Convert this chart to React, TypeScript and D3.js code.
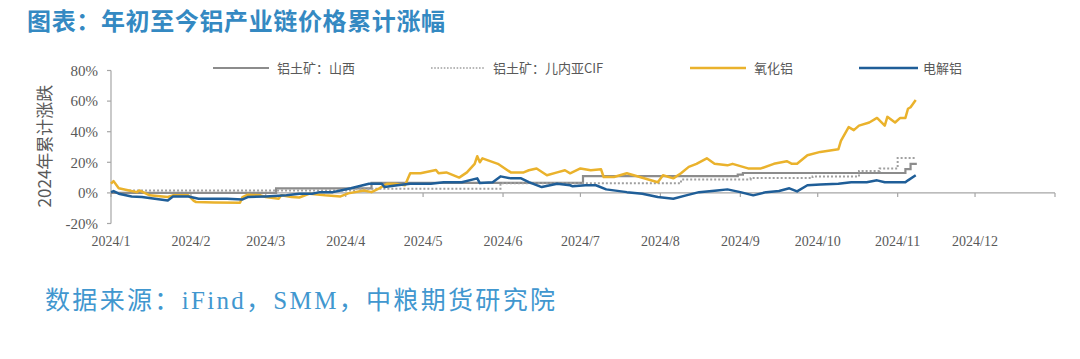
import React from "react";
import * as d3 from "d3";

// ---------- data ----------
const monthTicks = ["2024-01-01","2024-02-01","2024-03-01","2024-04-01","2024-05-01","2024-06-01","2024-07-01","2024-08-01","2024-09-01","2024-10-01","2024-11-01","2024-12-01","2025-01-01"];
const monthLabels = ["2024/1","2024/2","2024/3","2024/4","2024/5","2024/6","2024/7","2024/8","2024/9","2024/10","2024/11","2024/12",""];
const yTicks = [-20, 0, 20, 40, 60, 80];

const seriesNames = ["铝土矿：山西", "铝土矿：儿内亚CIF", "氧化铝", "电解铝"];

// 铝土矿：山西 (step)
const shanxiDates = ["2024-01-01","2024-03-05","2024-04-11","2024-07-02","2024-08-31","2024-09-02","2024-10-31","2024-11-04","2024-11-06","2024-11-08"];
const shanxiValues = [0, 3.0, 6.6, 11.0, 12.0, 13.0, 13.0, 15.5, 19.0, 18.2];

// 铝土矿：几内亚CIF (step)
const guineaDates = ["2024-01-08","2024-04-05","2024-05-31","2024-08-09","2024-09-05","2024-09-29","2024-10-17","2024-10-25","2024-11-01","2024-11-08"];
const guineaValues = [1.6, 2.7, 6.3, 8.7, 9.7, 10.8, 14.3, 15.9, 22.8, 22.8];

// 氧化铝
const aluminaDates = ["2024-01-01","2024-01-02","2024-01-04","2024-01-08","2024-01-11","2024-01-12","2024-01-16","2024-01-20","2024-01-23","2024-01-25","2024-01-31","2024-02-02","2024-02-03","2024-02-10","2024-02-20","2024-02-21","2024-02-23","2024-02-28","2024-03-01","2024-03-06","2024-03-07","2024-03-11","2024-03-14","2024-03-18","2024-03-24","2024-03-30","2024-04-02","2024-04-08","2024-04-11","2024-04-14","2024-04-17","2024-04-20","2024-04-24","2024-04-26","2024-04-30","2024-05-06","2024-05-07","2024-05-10","2024-05-15","2024-05-18","2024-05-21","2024-05-22","2024-05-23","2024-05-24","2024-05-30","2024-06-04","2024-06-09","2024-06-11","2024-06-14","2024-06-18","2024-06-22","2024-06-25","2024-06-27","2024-07-01","2024-07-05","2024-07-09","2024-07-10","2024-07-14","2024-07-19","2024-07-24","2024-07-31","2024-08-02","2024-08-06","2024-08-09","2024-08-12","2024-08-15","2024-08-19","2024-08-22","2024-08-27","2024-08-29","2024-09-04","2024-09-09","2024-09-14","2024-09-19","2024-09-21","2024-09-23","2024-09-27","2024-10-02","2024-10-09","2024-10-10","2024-10-13","2024-10-15","2024-10-17","2024-10-21","2024-10-24","2024-10-27","2024-10-28","2024-10-31","2024-11-02","2024-11-04","2024-11-05","2024-11-06","2024-11-08"];
const aluminaValues = [6.0,7.7,3.0,1.6,0.5,1.6,-1.6,-2.2,-2.7,-1.6,-1.6,-5.0,-6.0,-6.2,-6.4,-2.7,-1.2,-1.6,-2.7,-3.8,-1.6,-2.7,-3.0,-0.5,-1.6,-2.3,-0.3,1.6,0.5,3.0,6.0,6.0,5.0,12.8,12.8,15.0,12.8,13.4,10.0,13.4,19.0,24.0,20.0,22.6,19.0,13.4,13.4,14.8,16.0,11.5,13.4,14.8,12.8,16.0,14.8,15.4,10.4,10.4,12.8,10.4,7.0,11.5,9.5,12.8,17.0,19.0,22.6,19.0,18.0,19.0,16.0,16.0,19.0,20.7,19.0,19.0,24.6,26.8,28.5,34.0,43.0,41.0,44.0,46.0,49.0,44.0,49.7,46.0,49.0,49.0,55.0,56.0,60.7];

// 电解铝
const electroDates = ["2024-01-01","2024-01-02","2024-01-04","2024-01-09","2024-01-13","2024-01-18","2024-01-23","2024-01-25","2024-01-31","2024-02-04","2024-02-15","2024-02-21","2024-02-23","2024-03-01","2024-03-09","2024-03-14","2024-03-19","2024-03-22","2024-03-27","2024-03-30","2024-04-03","2024-04-10","2024-04-15","2024-04-16","2024-04-21","2024-04-26","2024-05-04","2024-05-09","2024-05-16","2024-05-22","2024-05-23","2024-05-28","2024-05-31","2024-06-04","2024-06-08","2024-06-11","2024-06-16","2024-06-22","2024-06-27","2024-06-28","2024-07-03","2024-07-07","2024-07-11","2024-07-19","2024-07-25","2024-07-31","2024-08-06","2024-08-11","2024-08-16","2024-08-23","2024-08-27","2024-09-01","2024-09-06","2024-09-11","2024-09-16","2024-09-20","2024-09-23","2024-09-27","2024-10-02","2024-10-09","2024-10-14","2024-10-20","2024-10-24","2024-10-27","2024-10-31","2024-11-04","2024-11-05","2024-11-08"];
const electroValues = [0.5,1.2,-0.5,-2.3,-2.7,-3.8,-5.0,-2.3,-2.3,-3.8,-3.8,-4.3,-2.7,-2.3,-1.6,-0.5,-0.5,0.5,0.5,1.6,3.0,6.0,6.0,3.8,5.0,6.0,6.0,7.0,7.0,9.5,6.4,7.0,10.8,9.5,9.5,7.0,3.8,6.0,5.0,4.3,5.0,5.0,2.3,0.5,-0.5,-2.7,-3.8,-1.6,0.5,1.6,2.3,0.5,-1.6,0.5,1.2,3.0,1.0,5.0,5.5,6.0,7.0,7.0,8.2,7.0,7.0,7.0,8.2,11.5];

// ---------- chart ----------
const parse = d3.timeParse("%Y-%m-%d");
const zip = (ds: string[], vs: number[]) => ds.map((d, i) => ({ date: parse(d) as Date, value: vs[i] }));

export default function App() {
  const W = 1080, H = 359;
  const x = d3.scaleTime().domain([parse("2024-01-01") as Date, parse("2025-01-01") as Date]).range([111, 1055]);
  const y = d3.scaleLinear().domain([-20, 80]).range([223.5, 70.5]);

  const lineStep = d3.line<{ date: Date; value: number }>().x(d => x(d.date)).y(d => y(d.value)).curve(d3.curveStepAfter);
  const line = d3.line<{ date: Date; value: number }>().x(d => x(d.date)).y(d => y(d.value));

  const shanxi = zip(shanxiDates, shanxiValues);
  const guinea = zip(guineaDates, guineaValues);
  const alumina = zip(aluminaDates, aluminaValues);
  const electro = zip(electroDates, electroValues);

  const axisColor = "#A6A6A6";
  const textColor = "#595959";
  const colors = ["#8C8C8C", "#A0A0A0", "#EAB22C", "#1F5E98"];

  const legendItems = [
    { name: seriesNames[0], x1: 213, x2: 269, tx: 277, color: colors[0], dash: undefined as string | undefined, w: 2.2 },
    { name: seriesNames[1], x1: 431, x2: 485, tx: 493, color: colors[1], dash: "1.6,1.6", w: 1.6 },
    { name: seriesNames[2], x1: 690, x2: 746, tx: 754, color: colors[2], dash: undefined, w: 2.5 },
    { name: seriesNames[3], x1: 859, x2: 918, tx: 923, color: colors[3], dash: undefined, w: 2.5 },
  ];

  const zeroY = y(0);

  return (
    <svg width={W} height={H} style={{ position: "absolute", left: 0, top: 0, background: "#fff" }}>
      <rect width={W} height={H} fill="#fff" />
      {/* title */}
      <text x={27} y={30} textLength={418} lengthAdjust="spacing" fontFamily="'Noto Sans CJK SC'" fontWeight={700} fontSize={24} fill="#3489C2">图表：年初至今铝产业链价格累计涨幅</text>

      {/* legend */}
      {legendItems.map((it, i) => (
        <g key={i}>
          <line x1={it.x1} x2={it.x2} y1={68} y2={68} stroke={it.color} strokeWidth={it.w} strokeDasharray={it.dash} />
          <text x={it.tx} y={68} dy="0.35em" fontFamily="'Noto Sans CJK SC'" fontSize={13} fill={textColor}>{it.name}</text>
        </g>
      ))}

      {/* y axis */}
      <line x1={111} x2={111} y1={y(80)} y2={y(-20)} stroke={axisColor} strokeWidth={1.2} />
      {yTicks.map(t => (
        <g key={t}>
          <line x1={107} x2={111} y1={y(t)} y2={y(t)} stroke={axisColor} strokeWidth={1.2} />
          <text x={98} y={y(t)} dy="0.35em" textAnchor="end" fontFamily="'Liberation Serif'" fontSize={15} fill={textColor}>{t}%</text>
        </g>
      ))}
      <text transform={`translate(45,146) rotate(-90)`} textAnchor="middle" dy="0.35em" fontFamily="'Noto Sans CJK SC'" fontSize={17} fill={textColor}>2024年累计涨跌</text>

      {/* x axis (zero line) */}
      <line x1={111} x2={1055} y1={zeroY} y2={zeroY} stroke={axisColor} strokeWidth={1.2} />
      {monthTicks.map((m, i) => {
        const xx = x(parse(m) as Date);
        return (
          <g key={m}>
            <line x1={xx} x2={xx} y1={zeroY} y2={zeroY + 4} stroke={axisColor} strokeWidth={1.2} />
            {monthLabels[i] && (
              <text x={xx} y={241} dy="0.35em" textAnchor="middle" fontFamily="'Liberation Serif'" fontSize={14} fill={textColor}>{monthLabels[i]}</text>
            )}
          </g>
        );
      })}

      {/* series */}
      <path d={lineStep(shanxi) || ""} fill="none" stroke={colors[0]} strokeWidth={2.2} />
      <path d={lineStep(guinea) || ""} fill="none" stroke={colors[1]} strokeWidth={2} strokeDasharray="2,2" />
      <path d={line(alumina) || ""} fill="none" stroke={colors[2]} strokeWidth={2.5} strokeLinejoin="round" />
      <path d={line(electro) || ""} fill="none" stroke={colors[3]} strokeWidth={2.5} strokeLinejoin="round" />

      {/* source */}
      <text x={45} y={309} textLength={510} lengthAdjust="spacing" fontFamily="'Liberation Serif', 'Noto Sans CJK SC'" fontSize={25} fill="#4197CF">数据来源：iFind，SMM，中粮期货研究院</text>
    </svg>
  );
}
